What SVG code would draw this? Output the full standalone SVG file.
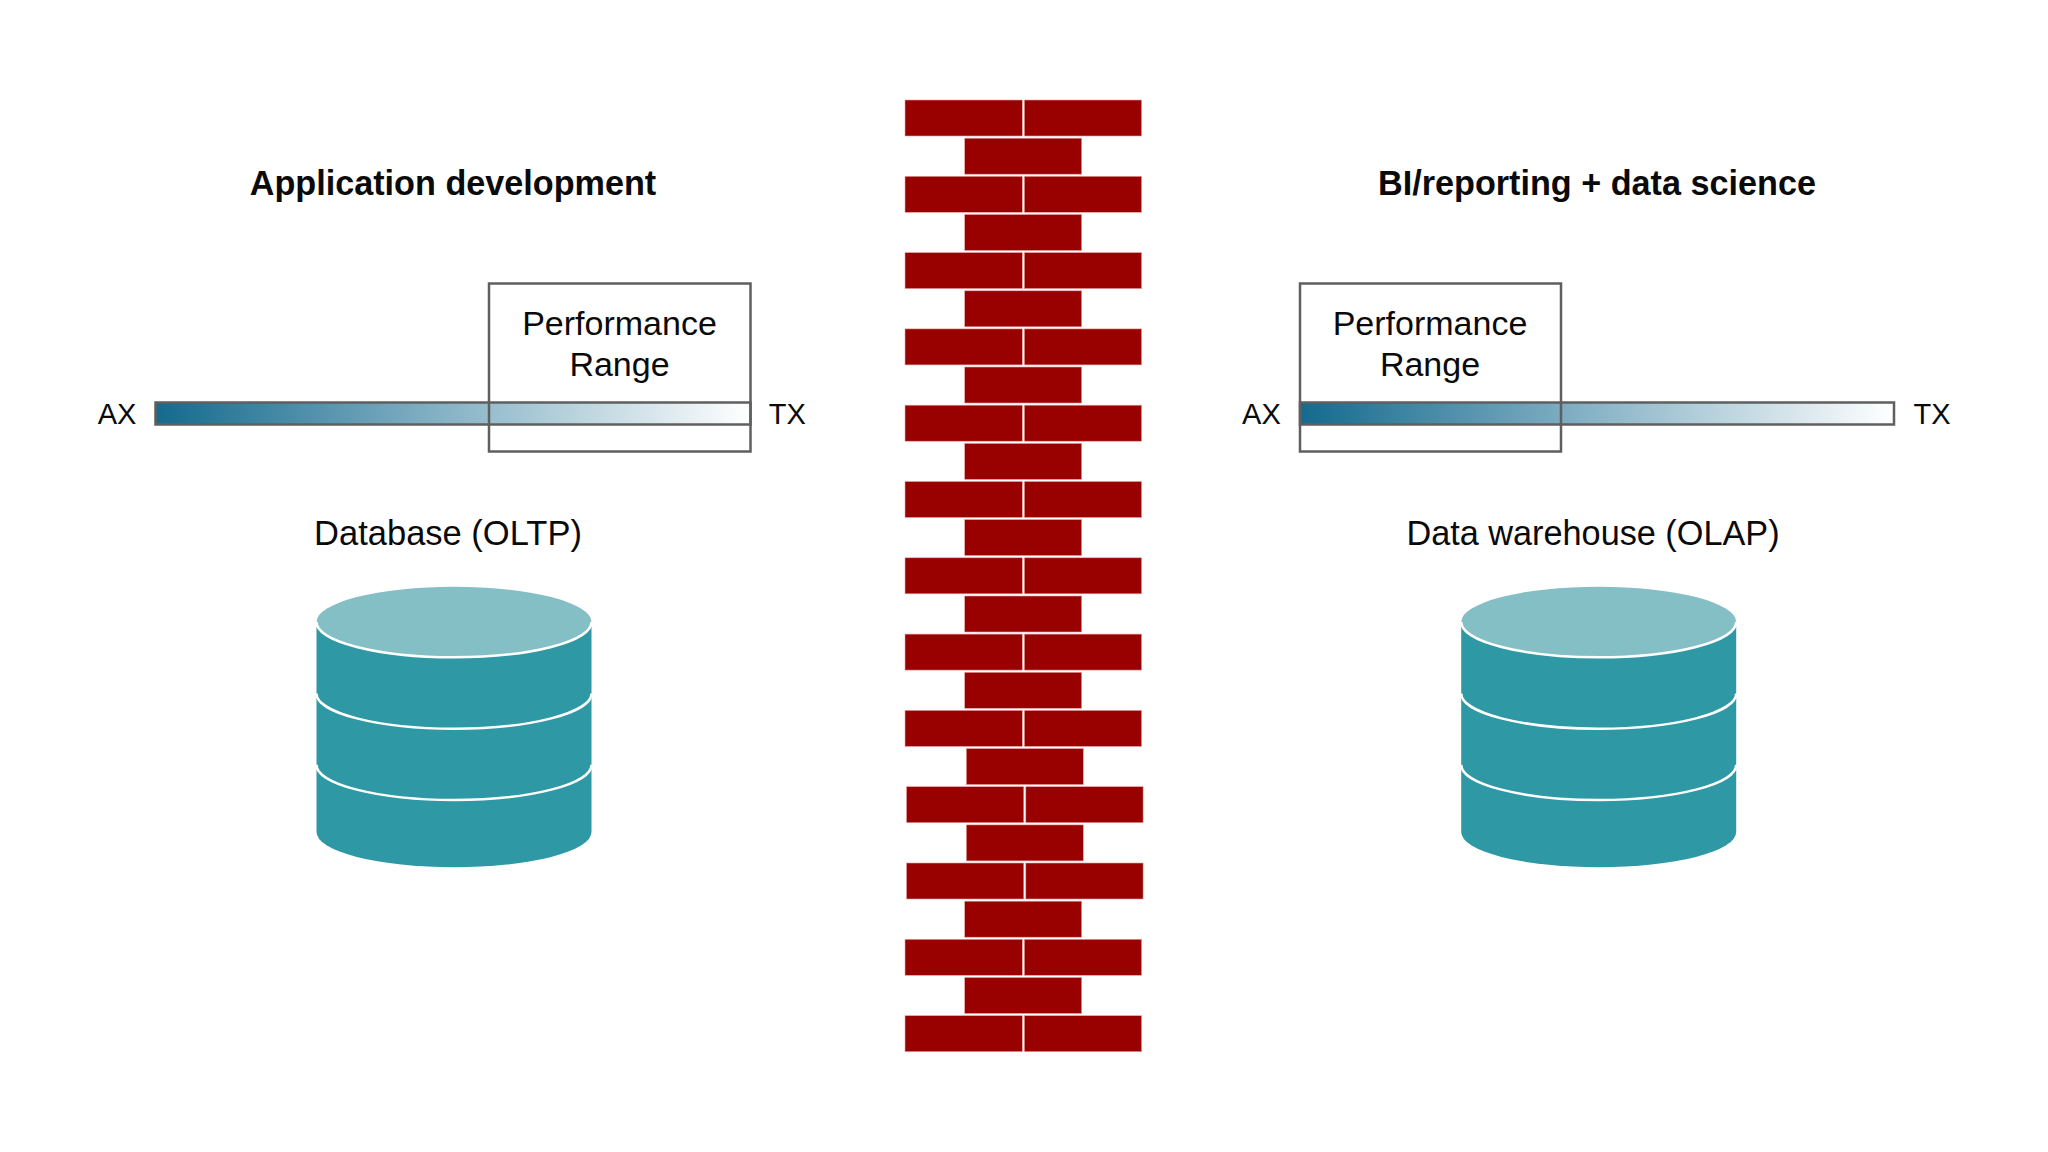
<svg xmlns="http://www.w3.org/2000/svg" xmlns:xlink="http://www.w3.org/1999/xlink" width="2048" height="1152" viewBox="0 0 2048 1152">
<style>
text{font-family:"Liberation Sans",Arial,sans-serif;fill:#0a0a0a;text-anchor:middle}
.h{font-size:34.2px;font-weight:700}
.t{font-size:34px}
.l{font-size:34.5px}
.s{font-size:29px}
.bar{stroke:#5f5f5f;stroke-width:2.5;fill:url(#g)}
.box{stroke:#5f5f5f;stroke-width:2.5;fill:none}
.b{fill:#990000;stroke:#e9a0a0;stroke-width:.6}
.body{fill:#2f98a5}
.top{fill:#85bfc6}
.arc{fill:none;stroke:#fff;stroke-width:2.5}
</style>
<defs>
<linearGradient id="g" x1="0" y1="0" x2="1" y2="0"><stop offset="0" stop-color="#146a8e"/><stop offset="1" stop-color="#ffffff"/></linearGradient>
<g id="cyl">
<path class="body" d="M-137.500 0V210A137.500 35.300 0 0 0 137.500 210V0Z"/>
<ellipse class="top" cx="0" cy="0" rx="137.500" ry="35.300"/>
<path class="arc" d="M-137.500 0A137.500 35.300 0 0 0 137.500 0M-137.500 71.400A137.500 35.300 0 0 0 137.500 71.400M-137.500 142.700A137.500 35.300 0 0 0 137.500 142.700"/>
</g>
<g id="d"><rect class="b" x="0" y="0" width="117.300" height="36"/><rect class="b" x="119.300" y="0" width="117.300" height="36"/></g>
<rect id="m" class="b" x="0" y="0" width="117" height="36"/>
</defs>
<rect width="2048" height="1152" fill="#fff"/>
<g id="wall">
<use href="#d" x="905" y="100"/><use href="#m" x="964.700" y="138.200"/>
<use href="#d" x="905" y="176.300"/><use href="#m" x="964.700" y="214.500"/>
<use href="#d" x="905" y="252.600"/><use href="#m" x="964.700" y="290.800"/>
<use href="#d" x="905" y="328.900"/><use href="#m" x="964.700" y="367"/>
<use href="#d" x="905" y="405.200"/><use href="#m" x="964.700" y="443.400"/>
<use href="#d" x="905" y="481.500"/><use href="#m" x="964.700" y="519.600"/>
<use href="#d" x="905" y="557.800"/><use href="#m" x="964.700" y="596"/>
<use href="#d" x="905" y="634.100"/><use href="#m" x="964.700" y="672.300"/>
<use href="#d" x="905" y="710.400"/><use href="#m" x="966.300" y="748.600"/>
<use href="#d" x="906.500" y="786.700"/><use href="#m" x="966.300" y="824.900"/>
<use href="#d" x="906.500" y="863"/><use href="#m" x="964.700" y="901.200"/>
<use href="#d" x="905" y="939.300"/><use href="#m" x="964.700" y="977.500"/>
<use href="#d" x="905" y="1015.700"/>
</g>
<g id="left-side">
<text class="h" x="453" y="194.700">Application development</text>
<g id="left-bar"><rect class="bar" x="155.500" y="402.500" width="595" height="22"/><text class="s" x="117" y="424">AX</text><text class="s" x="787.400" y="424">TX</text></g>
<g id="left-range"><rect class="box" x="489" y="283.500" width="261.500" height="168"/><text class="t" x="619.500" y="335">Performance</text><text class="t" x="619.500" y="376">Range</text></g>
<g id="left-db"><text class="l" x="448" y="544.700">Database (OLTP)</text><use href="#cyl" x="454" y="622"/></g>
</g>
<g id="right-side">
<text class="h" x="1597" y="194.700">BI/reporting + data science</text>
<g id="right-bar"><rect class="bar" x="1300" y="402.500" width="594" height="22"/><text class="s" x="1261.400" y="424">AX</text><text class="s" x="1932" y="424">TX</text></g>
<g id="right-range"><rect class="box" x="1300" y="283.500" width="261" height="168"/><text class="t" x="1430" y="335">Performance</text><text class="t" x="1430" y="376">Range</text></g>
<g id="right-db"><text class="t" x="1593" y="544.700" style="font-size:34.25px">Data warehouse (OLAP)</text><use href="#cyl" x="1598.700" y="622"/></g>
</g>
</svg>
